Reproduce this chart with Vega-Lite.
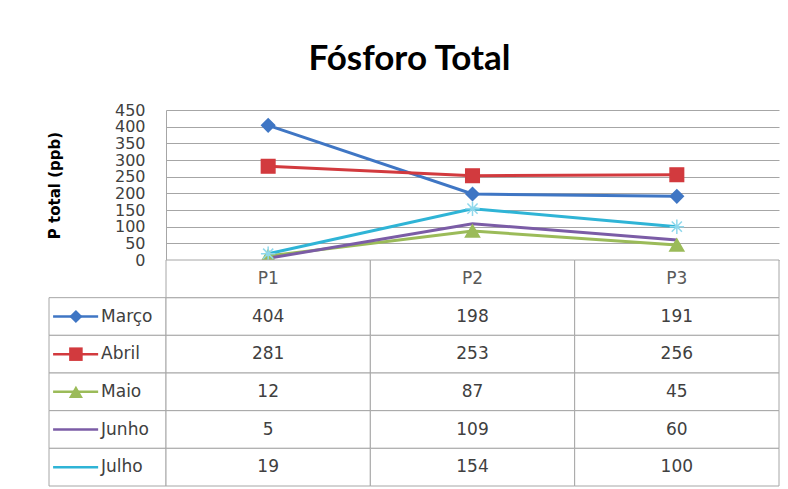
{
  "$schema": "https://vega.github.io/schema/vega-lite/v6.json",
  "padding": {"left": 47, "top": 42, "right": 8, "bottom": 0},
  "background": "white",
  "title": {"text": "Fósforo Total", "font": "Lato", "fontSize": 35, "fontWeight": "bold", "color": "#000000", "anchor": "middle", "offset": 25, "dx": -4},
  "datasets": {
    "d": [
      {"serie": "Março", "ponto": "P1", "valor": 404},
      {"serie": "Março", "ponto": "P2", "valor": 198},
      {"serie": "Março", "ponto": "P3", "valor": 191},
      {"serie": "Abril", "ponto": "P1", "valor": 281},
      {"serie": "Abril", "ponto": "P2", "valor": 253},
      {"serie": "Abril", "ponto": "P3", "valor": 256},
      {"serie": "Maio", "ponto": "P1", "valor": 12},
      {"serie": "Maio", "ponto": "P2", "valor": 87},
      {"serie": "Maio", "ponto": "P3", "valor": 45},
      {"serie": "Junho", "ponto": "P1", "valor": 5},
      {"serie": "Junho", "ponto": "P2", "valor": 109},
      {"serie": "Junho", "ponto": "P3", "valor": 60},
      {"serie": "Julho", "ponto": "P1", "valor": 19},
      {"serie": "Julho", "ponto": "P2", "valor": 154},
      {"serie": "Julho", "ponto": "P3", "valor": 100}
    ]
  },
  "columns": 2,
  "spacing": 0,
  "bounds": "flush",
  "concat": [
    {
      "width": 117, "height": 150,
      "data": {"values": []},
      "mark": "point"
    },
    {
      "width": 613, "height": 150,
      "data": {"name": "d"},
      "encoding": {
        "x": {"field": "ponto", "type": "ordinal", "scale": {"type": "point", "padding": 0.5, "domain": ["P1", "P2", "P3"]}, "axis": null},
        "y": {"field": "valor", "type": "quantitative",
          "scale": {"domain": [0, 450], "nice": false},
          "axis": {"title": "P total (ppb)", "values": [0, 50, 100, 150, 200, 250, 300, 350, 400, 450],
            "grid": true, "gridColor": "#a6a6a6", "gridWidth": 1.2,
            "domain": true, "domainColor": "#a6a6a6", "ticks": false,
            "labelPadding": 21, "labelFont": "DejaVu Sans", "labelFontSize": 16, "labelColor": "#404040",
            "labelOverlap": false, "labelFlush": false,
            "titleFont": "DejaVu Sans", "titleFontSize": 15, "titleFontWeight": "bold", "titleColor": "#000000", "titlePadding": 52}},
        "color": {"field": "serie", "type": "nominal",
          "scale": {"domain": ["Março", "Abril", "Maio", "Junho", "Julho"], "range": ["#3F76C4", "#D23A3E", "#9BBB59", "#7B5CA6", "#2FB4D6"]},
          "legend": null}
      },
      "layer": [
        {"mark": {"type": "line", "strokeWidth": 3}},
        {
          "transform": [{"filter": "datum.serie != 'Junho'"}],
          "mark": {"type": "point", "filled": true, "opacity": 1, "strokeWidth": 1.5},
          "encoding": {
            "shape": {"field": "serie", "type": "nominal", "scale": {"domain": ["Março", "Abril", "Maio", "Julho"], "range": ["diamond", "square", "triangle-up", "M-1,0L1,0M0,-1L0,1M-0.7,-0.7L0.7,0.7M-0.7,0.7L0.7,-0.7"]}, "legend": null},
            "size": {"field": "serie", "type": "ordinal", "scale": {"domain": ["Março", "Abril", "Maio", "Julho"], "range": [170, 210, 110, 130]}, "legend": null},
            "stroke": {"field": "serie", "type": "nominal", "scale": {"domain": ["Março", "Abril", "Maio", "Julho"], "range": ["#3F76C4", "#D23A3E", "#9BBB59", "#8FD8EC"]}, "legend": null}
          }
        }
      ]
    },
    {
      "width": 117, "height": 226,
      "data": {"name": "d"},
      "transform": [{"filter": "datum.ponto == 'P1'"}],
      "encoding": {
        "y": {"field": "serie", "type": "nominal", "scale": {"domain": ["hdr", "Março", "Abril", "Maio", "Junho", "Julho"], "paddingInner": 0, "paddingOuter": 0}, "axis": null}
      },
      "layer": [
        {
          "mark": {"type": "rect", "fill": "white", "stroke": "#a6a6a6", "strokeWidth": 1},
          "encoding": {
            "x": {"datum": 0, "type": "quantitative", "scale": {"domain": [0, 1], "nice": false, "zero": false}, "axis": null},
            "x2": {"datum": 1}
          }
        },
        {
          "mark": {"type": "rule", "strokeWidth": 2.5},
          "encoding": {
            "x": {"datum": 0.035, "type": "quantitative"},
            "x2": {"datum": 0.42},
            "color": {"field": "serie", "type": "nominal", "scale": {"domain": ["Março", "Abril", "Maio", "Junho", "Julho"], "range": ["#3F76C4", "#D23A3E", "#9BBB59", "#7B5CA6", "#2FB4D6"]}, "legend": null}
          }
        },
        {
          "transform": [{"filter": "datum.serie == 'Março' || datum.serie == 'Abril' || datum.serie == 'Maio'"}],
          "mark": {"type": "point", "filled": true, "opacity": 1},
          "encoding": {
            "x": {"datum": 0.23, "type": "quantitative"},
            "shape": {"field": "serie", "type": "nominal", "scale": {"domain": ["Março", "Abril", "Maio"], "range": ["diamond", "square", "triangle-up"]}, "legend": null},
            "size": {"field": "serie", "type": "ordinal", "scale": {"domain": ["Março", "Abril", "Maio"], "range": [50, 90, 50]}, "legend": null},
            "color": {"field": "serie", "type": "nominal", "legend": null}
          }
        },
        {
          "mark": {"type": "text", "align": "left", "baseline": "middle", "font": "DejaVu Sans", "fontSize": 17, "color": "#404040"},
          "encoding": {
            "x": {"datum": 0.445, "type": "quantitative"},
            "text": {"field": "serie"}
          }
        }
      ]
    },
    {
      "width": 613, "height": 226,
      "data": {"name": "d"},
      "encoding": {
        "x": {"field": "ponto", "type": "nominal", "scale": {"domain": ["P1", "P2", "P3"], "paddingInner": 0, "paddingOuter": 0}, "axis": null}
      },
      "layer": [
        {
          "mark": {"type": "rect", "fill": "white", "stroke": "#a6a6a6", "strokeWidth": 1},
          "encoding": {
            "y": {"field": "serie", "type": "nominal", "scale": {"domain": ["hdr", "Março", "Abril", "Maio", "Junho", "Julho"], "paddingInner": 0, "paddingOuter": 0}, "axis": null}
          }
        },
        {
          "transform": [{"filter": "datum.serie == 'Março'"}],
          "mark": {"type": "rect", "fill": "white", "stroke": "#a6a6a6", "strokeWidth": 1},
          "encoding": {
            "y": {"datum": "hdr", "type": "nominal"}
          }
        },
        {
          "mark": {"type": "text", "align": "center", "baseline": "middle", "font": "DejaVu Sans", "fontSize": 17, "color": "#404040"},
          "encoding": {
            "y": {"field": "serie", "type": "nominal"},
            "text": {"field": "valor", "type": "quantitative"}
          }
        },
        {
          "transform": [{"filter": "datum.serie == 'Março'"}],
          "mark": {"type": "text", "align": "center", "baseline": "middle", "font": "DejaVu Sans", "fontSize": 17, "color": "#595959"},
          "encoding": {
            "y": {"datum": "hdr", "type": "nominal"},
            "text": {"field": "ponto"}
          }
        }
      ]
    }
  ],
  "config": {
    "view": {"stroke": null},
    "font": "DejaVu Sans"
  }
}
